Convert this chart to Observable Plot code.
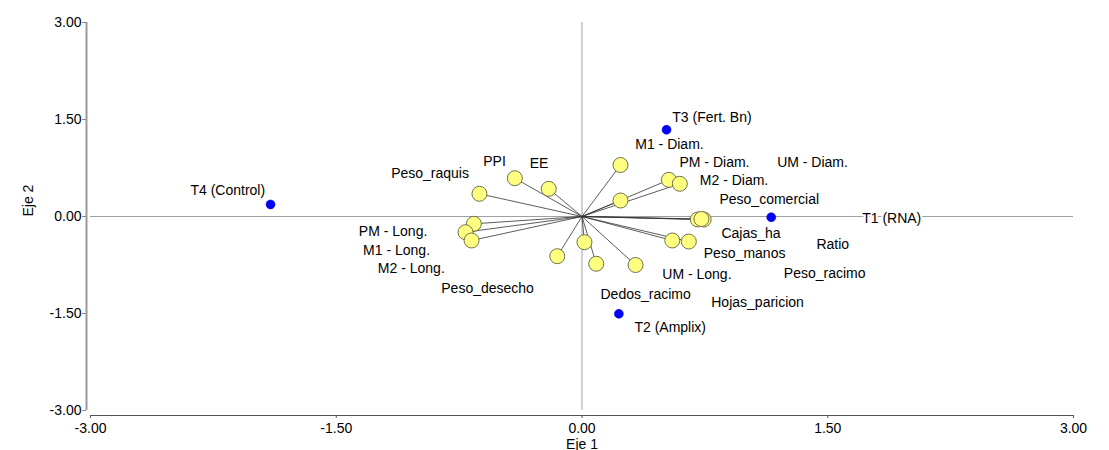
<!DOCTYPE html>
<html>
<head>
<meta charset="utf-8">
<script src="https://cdn.jsdelivr.net/npm/d3@7"></script>
<script src="https://cdn.jsdelivr.net/npm/@observablehq/plot@0.6"></script>
<style>
  html, body { margin: 0; padding: 0; background: #fff; }
  #chart svg { display: block; }
</style>
</head>
<body>
<div id="chart"></div>
<script>
// Variables (vectors)
const varNames = ["Peso_raquis","PPI","EE","M1 - Diam.","PM - Diam.","M2 - Diam.","UM - Diam.",
  "Peso_comercial","Cajas_ha","Ratio","Peso_manos","Peso_racimo","UM - Long.","Hojas_paricion",
  "Dedos_racimo","Peso_desecho","PM - Long.","M1 - Long.","M2 - Long."];
const varX = [-0.626,-0.410,-0.203,0.235,0.530,0.597,0.235,0.707,0.743,0.729,0.551,0.652,0.327,0.087,0.015,-0.151,-0.660,-0.711,-0.674];
const varY = [0.351,0.592,0.428,0.796,0.567,0.506,0.247,-0.046,-0.046,-0.039,-0.371,-0.387,-0.750,-0.731,-0.397,-0.614,-0.113,-0.243,-0.371];
// label anchor points (data units, text starts here)
const varLabelX = [-1.165,-0.603,-0.319,0.325,0.595,0.719,1.191,0.839,0.851,1.431,0.743,1.232,0.490,0.789,0.113,-0.859,-1.362,-1.336,-1.246];
const varLabelY = [0.670,0.855,0.815,1.109,0.830,0.557,0.830,0.263,-0.268,-0.438,-0.577,-0.877,-0.902,-1.334,-1.206,-1.109,-0.232,-0.526,-0.809];

// Treatments (points)
const trtNames = ["T1 (RNA)","T2 (Amplix)","T3 (Fert. Bn)","T4 (Control)"];
const trtX = [1.155,0.225,0.516,-1.901];
const trtY = [-0.011,-1.505,1.341,0.186];
const trtLabelX = [1.710,0.320,0.551,-2.390];
const trtLabelY = [-0.026,-1.721,1.536,0.402];

const ticks = [-3,-1.5,0,1.5,3];

const vars = varNames.map((n,i)=>({name:n, x:varX[i], y:varY[i], lx:varLabelX[i], ly:varLabelY[i]}));
const trts = trtNames.map((n,i)=>({name:n, x:trtX[i], y:trtY[i], lx:trtLabelX[i], ly:trtLabelY[i]}));
const f2 = d3.format(".2f");
const fmt = d => f2(d).replace("\u2212", "-");
const font = "'Liberation Sans', Arial, sans-serif";

const chart = Plot.plot({
  width: 1109,
  height: 450,
  marginLeft: 90,
  marginRight: 36,
  marginTop: 22,
  marginBottom: 40,
  style: {fontFamily: font, fontSize: "14px", background: "#fff", color: "#000"},
  x: {domain: [-3, 3]},
  y: {domain: [-3, 3]},
  marks: [
    // zero reference lines
    Plot.ruleY([0], {stroke: "#a0a0a0", strokeWidth: 1}),
    Plot.ruleX([0], {stroke: "#a0a0a0", strokeWidth: 1}),
    // axes
    Plot.ruleX([-3], {dx: -4, stroke: "#9a9a9a", strokeWidth: 2}),
    Plot.axisY({ticks, tickFormat: fmt, tickSize: 4, dx: -4, tickPadding: 1, fontSize: 14, stroke: "#888", fill: "#000", label: null}),
    Plot.ruleY([-3], {dy: 5, stroke: "#555", strokeWidth: 1.2}),
    Plot.axisX({ticks, tickFormat: fmt, tickSize: 3, dy: 5, tickPadding: 5, fontSize: 14, stroke: "#555", fill: "#000", label: null}),
    // axis titles
    Plot.text(["Eje 2"], {frameAnchor: "left", dx: -62, rotate: -90, fontSize: 14, fill: "#000"}),
    Plot.text(["Eje 1"], {frameAnchor: "bottom", dy: 38, fontSize: 14, fill: "#000"}),
    // vectors
    Plot.link(vars, {x1: 0, y1: 0, x2: "x", y2: "y", stroke: "#333", strokeWidth: 0.8}),
    Plot.dot(vars, {x: "x", y: "y", r: 7.5, fill: "#ffff80", stroke: "#707050", strokeWidth: 1}),
    // treatments
    Plot.dot(trts, {x: "x", y: "y", r: 4.5, fill: "#0000ff", stroke: "#0000b0", strokeWidth: 0.5}),
    // labels
    Plot.text(vars, {x: "lx", y: "ly", text: "name", textAnchor: "start", fontSize: 14, fill: "#000"}),
    Plot.text(trts, {x: "lx", y: "ly", text: "name", textAnchor: "start", fontSize: 14, fill: "#000", stroke: "#fff", strokeWidth: 4, paintOrder: "stroke"})
  ]
});
document.getElementById("chart").appendChild(chart);
</script>
</body>
</html>
